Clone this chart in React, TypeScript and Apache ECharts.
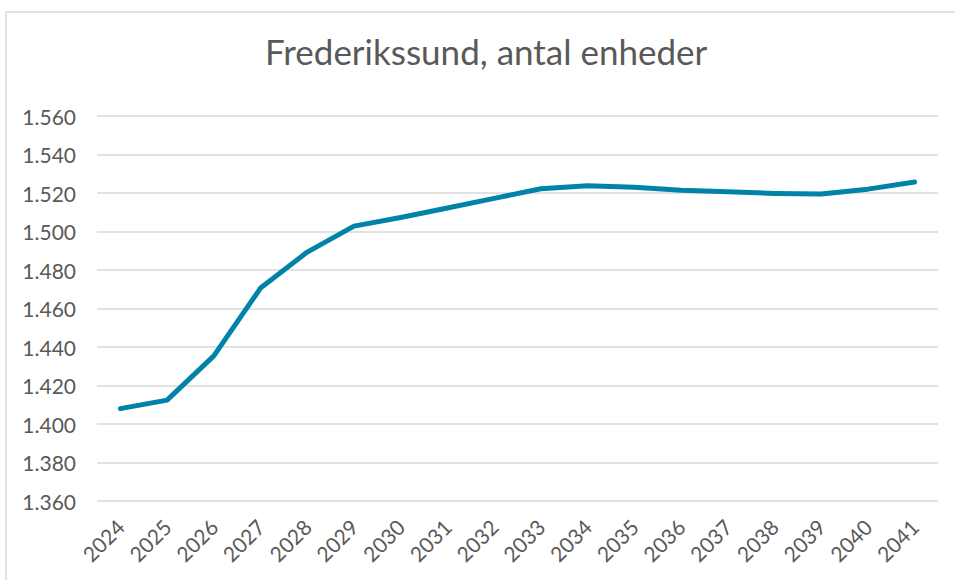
import React, { useEffect, useRef } from "react";
import * as echarts from "echarts";

const title = "Frederikssund, antal enheder";
const years = ["2024","2025","2026","2027","2028","2029","2030","2031","2032","2033","2034","2035","2036","2037","2038","2039","2040","2041"];
const units = [1408, 1412.4, 1435.4, 1470.6, 1489.3, 1502.8, 1507.3, 1512.2, 1517.2, 1522.2, 1523.8, 1523.0, 1521.4, 1520.6, 1519.8, 1519.5, 1522.0, 1525.7];
const yMin = 1360;
const yMax = 1560;
const yStep = 20;

const fmt = (v: number) => {
  const s = String(Math.round(v));
  return s.length > 3 ? s.slice(0, s.length - 3) + "." + s.slice(-3) : s;
};

export default function App() {
  const ref = useRef<HTMLDivElement>(null);
  useEffect(() => {
    const chart = echarts.init(ref.current!, null, { renderer: "svg" });
    const font = "Lato, 'Open Sans', sans-serif";
    chart.setOption({
      animation: false,
      backgroundColor: "#ffffff",
      title: {
        text: title,
        left: 260,
        top: 28,
        textStyle: { fontFamily: font, fontSize: 35, fontWeight: "normal", color: "#595959" },
      },
      grid: { left: 97, right: 17, top: 116, bottom: 79, containLabel: false },
      xAxis: {
        type: "category",
        data: years,
        boundaryGap: true,
        axisLine: { show: false },
        axisTick: { show: false },
        axisLabel: { rotate: 45, fontFamily: font, fontSize: 21, color: "#595959", margin: 22, interval: 0 },
      },
      yAxis: {
        type: "value",
        min: yMin,
        max: yMax,
        interval: yStep,
        axisLine: { show: false },
        axisTick: { show: false },
        axisLabel: { formatter: fmt, fontFamily: font, fontSize: 21, color: "#595959", margin: 21 },
        splitLine: { lineStyle: { color: "#d9d9d9", width: 1.5 } },
      },
      series: [
        {
          type: "line",
          data: units,
          symbol: "none",
          lineStyle: { color: "#0083a6", width: 5, cap: "round", join: "round" },
        },
      ],
      graphic: [
        { type: "line", shape: { x1: 6, y1: 12, x2: 955, y2: 12 }, style: { stroke: "#d9d9d9", lineWidth: 1.5 } },
        { type: "line", shape: { x1: 6, y1: 12, x2: 6, y2: 580 }, style: { stroke: "#d9d9d9", lineWidth: 1.5 } },
      ],
    });
    return () => chart.dispose();
  }, []);
  return <div ref={ref} style={{ position: "fixed", left: 0, top: 0, width: 955, height: 580 }} />;
}
